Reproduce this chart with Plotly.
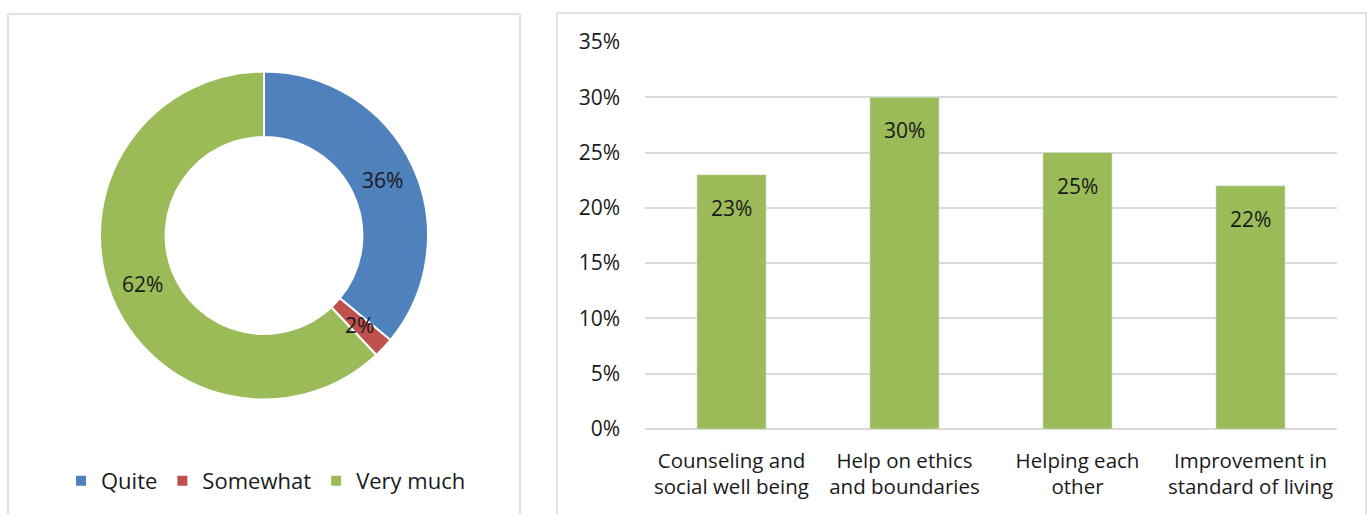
import math
import plotly.graph_objects as go

# Donut: share of responses
pie_labels = ["Quite", "Somewhat", "Very much"]
pie_values = [36, 2, 62]
pie_colors = ["#4F81BD", "#C0504D", "#9BBB59"]

# Bars: areas of support
bar_categories = [
    "Counseling and<br>social well being",
    "Help on ethics<br>and boundaries",
    "Helping each<br>other",
    "Improvement in<br>standard of living",
]
bar_values = [0.23, 0.30, 0.25, 0.22]
bar_color = "#9BBB59"

y_ticks = [0, 0.05, 0.10, 0.15, 0.20, 0.25, 0.30, 0.35]

W, H = 1370, 514
FONT = "Open Sans"
TXT = "#1a1a1a"
HOLE = 0.6

# donut placement (pixels)
PIE_CX, PIE_CY, PIE_R = 264, 235.5, 164


def px(x):
    return x / W


def py(y):
    return 1 - y / H


fig = go.Figure()

fig.add_trace(go.Pie(
    labels=pie_labels,
    values=pie_values,
    marker=dict(colors=pie_colors, line=dict(color="white", width=2)),
    hole=HOLE,
    sort=False,
    direction="clockwise",
    rotation=0,
    textinfo="none",
    domain=dict(x=[px(PIE_CX - PIE_R), px(PIE_CX + PIE_R)],
                y=[py(PIE_CY + PIE_R), py(PIE_CY - PIE_R)]),
    showlegend=True,
    hoverinfo="label+percent",
))

fig.add_trace(go.Bar(
    x=bar_categories,
    y=bar_values,
    marker=dict(color=bar_color),
    width=0.4,
    showlegend=False,
    xaxis="x",
    yaxis="y",
    hovertemplate="%{y:.0%}<extra></extra>",
))

annotations = []

# percentage labels centred in the ring of each slice
total = sum(pie_values)
mid_r = PIE_R * (1 + HOLE) / 2
cum = 0
for v in pie_values:
    ang = 2 * math.pi * (cum + v / 2) / total
    cum += v
    lx = PIE_CX + mid_r * math.sin(ang)
    ly = PIE_CY - mid_r * math.cos(ang)
    annotations.append(dict(
        x=px(lx), y=py(ly), xref="paper", yref="paper",
        text=f"{round(100 * v / total)}%", showarrow=False,
        xanchor="center", yanchor="middle",
        font=dict(size=21, color=TXT, family=FONT),
    ))

# value labels inside the top of each bar
for cat, v in zip(bar_categories, bar_values):
    annotations.append(dict(
        x=cat, y=v, xref="x", yref="y",
        text=f"{v:.0%}", showarrow=False,
        xanchor="center", yanchor="middle", yshift=-33,
        font=dict(size=21, color=TXT, family=FONT),
    ))

fig.update_layout(
    width=W,
    height=H,
    margin=dict(l=0, r=0, t=0, b=0, autoexpand=False),
    paper_bgcolor="white",
    plot_bgcolor="white",
    font=dict(family=FONT, size=21, color=TXT),
    bargap=0.6,
    xaxis=dict(
        domain=[px(645), px(1337)],
        anchor="y",
        showgrid=False,
        showline=False,
        ticks="",
        ticklabelstandoff=17,
        tickfont=dict(size=20.5, color=TXT),
        fixedrange=True,
    ),
    yaxis=dict(
        domain=[py(429), py(42)],
        anchor="x",
        range=[0, 0.35],
        tickvals=y_ticks,
        tickformat=".0%",
        showgrid=True,
        gridcolor="#d9d9d9",
        gridwidth=1.5,
        zeroline=True,
        zerolinecolor="#d9d9d9",
        zerolinewidth=2,
        showline=False,
        ticks="",
        ticklabelstandoff=24,
        tickfont=dict(size=21, color=TXT),
        fixedrange=True,
    ),
    legend=dict(
        orientation="h",
        x=px(266),
        xanchor="center",
        y=py(481),
        yanchor="middle",
        font=dict(size=22, color=TXT),
        itemwidth=30,
        traceorder="normal",
    ),
    annotations=annotations,
    shapes=[
        dict(type="rect", xref="paper", yref="paper",
             x0=px(8), x1=px(520), y0=py(520), y1=py(14),
             line=dict(color="#d9d9d9", width=1.5), layer="below"),
        dict(type="rect", xref="paper", yref="paper",
             x0=px(557), x1=px(1366), y0=py(520), y1=py(13),
             line=dict(color="#d9d9d9", width=1.5), layer="below"),
    ],
)

fig.write_html("out.html")
